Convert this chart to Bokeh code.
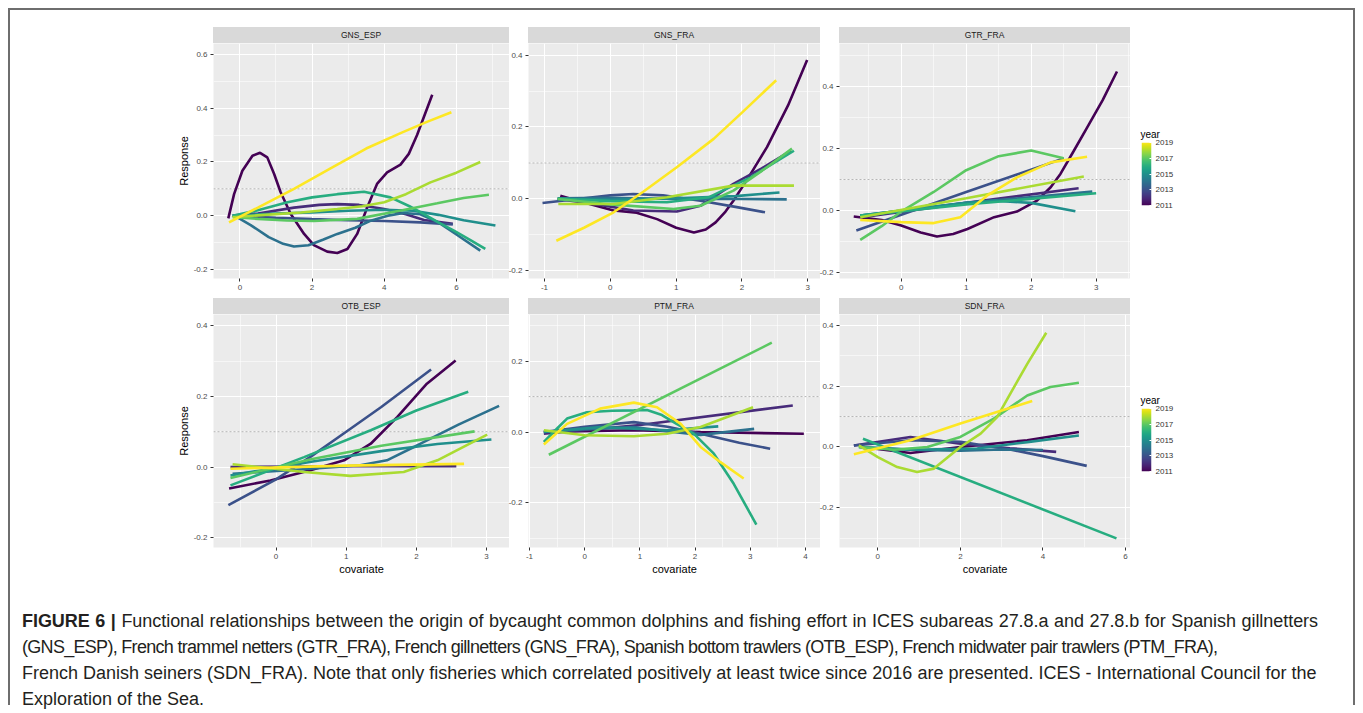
import numpy as np
from bokeh.plotting import figure
from bokeh.layouts import row, column
from bokeh.models import (Range1d, FixedTicker, PrintfTickFormatter, Span, Div, Spacer,
                          LinearColorMapper)
from bokeh.palettes import viridis, Viridis256
from bokeh.embed import file_html
from bokeh.resources import INLINE

YEARS = [2011, 2012, 2013, 2014, 2015, 2016, 2017, 2018, 2019]
LEGEND_TICKS = [2011, 2013, 2015, 2017, 2019]
COLORS = viridis(9)

# ---------------- GNS_ESP ----------------
GNS_ESP_X = {
    2011: [-0.32, -0.16, 0.07, 0.35, 0.56, 0.76, 0.95, 1.13, 1.41, 1.78, 2.05, 2.42, 2.7, 2.98, 3.25, 3.53, 3.8, 4.08, 4.45, 4.68, 4.91, 5.33],
    2012: [-0.2, 0.5, 1.5, 2.2, 2.7, 3.3, 4.0, 4.6, 5.1, 5.9],
    2013: [-0.2, 1.0, 2.0, 3.0, 4.0, 5.0, 5.9],
    2014: [-0.15, 0.3, 0.8, 1.2, 1.5, 1.9, 2.3, 2.7, 3.2, 3.6, 4.1, 4.54, 5.0, 5.5, 6.0, 6.66],
    2015: [-0.2, 1.0, 2.0, 3.0, 4.0, 4.8, 5.5, 6.2, 7.08],
    2016: [-0.2, 0.5, 1.32, 2.0, 2.7, 3.44, 4.17, 4.7, 5.1, 5.5, 5.93, 6.4, 6.8],
    2017: [-0.2, 0.5, 1.3, 2.05, 3.25, 4.5, 5.47, 6.2, 6.9],
    2018: [-0.2, 0.7, 1.7, 2.7, 3.4, 4.0, 4.6, 5.28, 6.0, 6.66],
    2019: [-0.3, 0.5, 1.5, 2.5, 3.5, 4.5, 5.2, 5.86],
}
GNS_ESP_Y = {
    2011: [-0.01, 0.08, 0.167, 0.223, 0.234, 0.217, 0.155, 0.087, 0.006, -0.068, -0.11, -0.134, -0.139, -0.124, -0.068, 0.031, 0.118, 0.161, 0.19, 0.23, 0.30, 0.45],
    2012: [0.0, 0.008, 0.03, 0.04, 0.043, 0.04, 0.025, 0.005, -0.016, -0.03],
    2013: [0.0, -0.008, -0.013, -0.017, -0.02, -0.025, -0.033],
    2014: [0.0, -0.035, -0.08, -0.105, -0.115, -0.11, -0.09, -0.068, -0.045, -0.02, 0.0, 0.01, 0.005, -0.025, -0.07, -0.13],
    2015: [0.0, 0.008, 0.012, 0.018, 0.022, 0.018, 0.003, -0.017, -0.037],
    2016: [0.0, 0.02, 0.05, 0.068, 0.08, 0.089, 0.068, 0.035, 0.006, -0.025, -0.056, -0.092, -0.124],
    2017: [-0.005, -0.012, -0.018, -0.02, -0.012, 0.02, 0.046, 0.066, 0.078],
    2018: [-0.006, 0.003, 0.012, 0.025, 0.035, 0.05, 0.08, 0.124, 0.16, 0.2],
    2019: [-0.025, 0.03, 0.1, 0.175, 0.25, 0.31, 0.35, 0.385],
}

# ---------------- GNS_FRA ----------------
GNS_FRA_X = {
    2011: [-0.76, -0.4, 0.05, 0.4, 0.71, 1.0, 1.27, 1.45, 1.6, 1.75, 1.87, 2.1, 2.38, 2.7, 2.99],
    2012: [-0.8, -0.2, 0.35, 1.01, 1.37, 1.87, 2.3, 2.74],
    2013: [-1.03, -0.5, 0.0, 0.35, 0.8, 1.37, 1.9, 2.35],
    2014: [-0.8, 0.0, 1.0, 2.0, 2.68],
    2015: [-0.8, 0.0, 1.0, 1.9, 2.57],
    2016: [-0.8, 0.0, 0.86, 1.5, 2.13, 2.79],
    2017: [-0.8, 0.0, 0.96, 1.37, 1.87, 2.38, 2.76],
    2018: [-0.79, 0.05, 0.86, 1.87, 2.3, 2.79],
    2019: [-0.82, -0.4, 0.05, 0.5, 1.01, 1.57, 2.0, 2.52],
}
GNS_FRA_Y = {
    2011: [0.009, -0.01, -0.032, -0.038, -0.056, -0.08, -0.093, -0.085, -0.065, -0.035, -0.005, 0.06, 0.144, 0.26, 0.386],
    2012: [0.0, -0.015, -0.032, -0.035, -0.019, 0.042, 0.085, 0.134],
    2013: [-0.011, 0.0, 0.01, 0.014, 0.01, -0.005, -0.022, -0.037],
    2014: [0.002, 0.003, 0.0, 0.0, -0.001],
    2015: [0.0, -0.002, 0.002, 0.008, 0.018],
    2016: [0.001, -0.006, -0.009, 0.005, 0.06, 0.134],
    2017: [0.0, -0.015, -0.028, -0.019, 0.023, 0.088, 0.14],
    2018: [-0.014, -0.014, 0.005, 0.037, 0.037, 0.037],
    2019: [-0.116, -0.08, -0.037, 0.02, 0.088, 0.167, 0.24, 0.33],
}

# ---------------- GTR_FRA ----------------
GTR_FRA_X = {
    2011: [-0.73, -0.3, 0.0, 0.3, 0.55, 0.8, 1.02, 1.43, 1.78, 2.09, 2.3, 2.45, 2.65, 2.86, 3.1, 3.32],
    2012: [-0.57, 1.0, 2.73],
    2013: [-0.69, 1.0, 2.5],
    2014: [-0.63, 1.0, 2.94],
    2015: [-0.63, 0.4, 1.0, 1.43, 2.0, 2.68],
    2016: [-0.63, 1.0, 3.0],
    2017: [-0.63, -0.3, 0.0, 0.5, 1.0, 1.5, 2.0, 2.5],
    2018: [-0.63, 1.0, 2.81],
    2019: [-0.63, 0.0, 0.5, 0.91, 1.32, 1.78, 2.3, 2.86],
}
GTR_FRA_Y = {
    2011: [-0.019, -0.03, -0.048, -0.07, -0.083, -0.075, -0.059, -0.021, -0.003, 0.032, 0.075, 0.118, 0.19, 0.267, 0.355, 0.447],
    2012: [-0.02, 0.025, 0.072],
    2013: [-0.064, 0.06, 0.168],
    2014: [-0.016, 0.025, 0.061],
    2015: [-0.016, 0.01, 0.025, 0.032, 0.025, -0.002],
    2016: [-0.016, 0.02, 0.056],
    2017: [-0.094, -0.05, -0.003, 0.06, 0.13, 0.175, 0.193, 0.168],
    2018: [-0.021, 0.04, 0.11],
    2019: [-0.03, -0.037, -0.04, -0.021, 0.048, 0.107, 0.155, 0.173],
}

# ---------------- OTB_ESP ----------------
OTB_ESP_X = {
    2011: [-0.67, -0.08, 0.49, 0.97, 1.35, 1.73, 2.15, 2.56],
    2012: [-0.65, 1.0, 2.57],
    2013: [-0.68, 0.0, 0.5, 1.0, 1.5, 2.21],
    2014: [-0.62, 0.5, 1.2, 1.58, 2.06, 2.6, 3.18],
    2015: [-0.65, 0.5, 1.5, 2.3, 3.07],
    2016: [-0.65, 0.4, 1.35, 2.0, 2.74],
    2017: [-0.65, 0.5, 1.5, 2.83],
    2018: [-0.62, 0.4, 1.06, 1.82, 2.3, 3.01],
    2019: [-0.65, 1.0, 2.68],
}
OTB_ESP_Y = {
    2011: [-0.061, -0.038, -0.009, 0.019, 0.066, 0.142, 0.236, 0.302],
    2012: [0.0, 0.002, 0.002],
    2013: [-0.108, -0.035, 0.03, 0.1, 0.17, 0.276],
    2014: [-0.019, -0.005, 0.005, 0.019, 0.066, 0.12, 0.173],
    2015: [-0.024, 0.015, 0.045, 0.065, 0.078],
    2016: [-0.052, 0.028, 0.104, 0.16, 0.213],
    2017: [-0.031, 0.022, 0.06, 0.101],
    2018: [0.008, -0.014, -0.025, -0.014, 0.019, 0.092],
    2019: [-0.005, 0.004, 0.009],
}

# ---------------- PTM_FRA ----------------
PTM_FRA_X = {
    2011: [-0.74, 0.89, 2.1, 3.97],
    2012: [-0.74, 1.0, 3.77],
    2013: [-0.74, 0.0, 0.89, 1.5, 2.1, 2.8, 3.36],
    2014: [-0.74, 0.0, 0.89, 1.6, 2.1, 3.07],
    2015: [-0.74, 0.28, 1.49, 2.42],
    2016: [-0.74, -0.5, -0.32, 0.04, 0.5, 0.89, 1.13, 1.4, 1.61, 1.98, 2.34, 2.7, 3.11],
    2017: [-0.65, 3.39],
    2018: [-0.74, 0.0, 0.89, 1.49, 2.1, 3.05],
    2019: [-0.74, -0.32, 0.28, 0.89, 1.31, 1.74, 2.1, 2.46, 2.88],
}
PTM_FRA_Y = {
    2011: [0.0, 0.005, 0.0, -0.005],
    2012: [-0.005, 0.02, 0.075],
    2013: [0.0, 0.015, 0.028, 0.015, -0.005, -0.03, -0.047],
    2014: [0.0, 0.008, 0.014, 0.0, -0.008, 0.009],
    2015: [0.0, 0.014, 0.005, 0.016],
    2016: [-0.028, 0.01, 0.038, 0.056, 0.06, 0.061, 0.062, 0.048, 0.028, -0.005, -0.061, -0.146, -0.261],
    2017: [-0.064, 0.252],
    2018: [0.005, -0.009, -0.012, -0.005, 0.014, 0.07],
    2019: [-0.035, 0.023, 0.066, 0.083, 0.07, 0.023, -0.042, -0.085, -0.131],
}

# ---------------- SDN_FRA ----------------
SDN_FRA_X = {
    2011: [-0.4, 0.79, 2.0, 3.62, 4.87],
    2012: [-0.58, 0.79, 2.0, 3.2, 4.32],
    2013: [-0.58, 0.79, 2.0, 3.2, 4.0, 5.06],
    2014: [-0.45, 1.0, 2.0, 3.0, 4.0],
    2015: [-0.46, 0.79, 2.4, 3.62, 4.87],
    2016: [-0.36, 5.78],
    2017: [-0.46, 0.39, 1.2, 2.0, 2.81, 3.62, 4.18, 4.87],
    2018: [-0.46, 0.0, 0.47, 0.95, 1.36, 2.0, 2.49, 2.89, 3.21, 3.62, 4.08],
    2019: [-0.58, 0.79, 2.0, 3.74],
}
SDN_FRA_Y = {
    2011: [0.0, -0.02, 0.0, 0.022, 0.049],
    2012: [0.005, 0.033, 0.011, -0.004, -0.016],
    2013: [0.005, 0.022, 0.017, -0.008, -0.03, -0.062],
    2014: [0.0, -0.01, -0.012, -0.008, -0.01],
    2015: [0.0, -0.009, -0.005, 0.016, 0.038],
    2016: [0.027, -0.3],
    2017: [0.0, -0.009, 0.0, 0.033, 0.093, 0.169, 0.197, 0.211],
    2018: [0.005, -0.033, -0.066, -0.082, -0.071, 0.0, 0.044, 0.098, 0.175, 0.273, 0.375],
    2019: [-0.024, 0.022, 0.077, 0.151],
}

THRESHOLD = 0.1

CAPTION_LINES = [
    "<b>FIGURE 6 |</b> Functional relationships between the origin of bycaught common dolphins and fishing effort in ICES subareas 27.8.a and 27.8.b for Spanish gillnetters",
    "(GNS_ESP), French trammel netters (GTR_FRA), French gillnetters (GNS_FRA), Spanish bottom trawlers (OTB_ESP), French midwater pair trawlers (PTM_FRA),",
    "French Danish seiners (SDN_FRA). Note that only fisheries which correlated positively at least twice since 2016 are presented. ICES - International Council for the",
    "Exploration of the Sea.",
]

PANELS = [
    dict(name="GNS_ESP", xs=GNS_ESP_X, ys=GNS_ESP_Y, xr=(-0.73, 7.47), yr=(-0.234, 0.641),
         xt=[0, 2, 4, 6], yt=[-0.2, 0.0, 0.2, 0.4, 0.6]),
    dict(name="GNS_FRA", xs=GNS_FRA_X, ys=GNS_FRA_Y, xr=(-1.243, 3.193), yr=(-0.221, 0.432),
         xt=[-1, 0, 1, 2, 3], yt=[-0.2, 0.0, 0.2, 0.4]),
    dict(name="GTR_FRA", xs=GTR_FRA_X, ys=GTR_FRA_Y, xr=(-0.949, 3.528), yr=(-0.218, 0.537),
         xt=[0, 1, 2, 3], yt=[-0.2, 0.0, 0.2, 0.4]),
    dict(name="OTB_ESP", xs=OTB_ESP_X, ys=OTB_ESP_Y, xr=(-0.892, 3.328), yr=(-0.228, 0.432),
         xt=[0, 1, 2, 3], yt=[-0.2, 0.0, 0.2, 0.4]),
    dict(name="PTM_FRA", xs=PTM_FRA_X, ys=PTM_FRA_Y, xr=(-1.018, 4.272), yr=(-0.3256, 0.3315),
         xt=[-1, 0, 1, 2, 3, 4], yt=[-0.2, 0.0, 0.2]),
    dict(name="SDN_FRA", xs=SDN_FRA_X, ys=SDN_FRA_Y, xr=(-0.928, 6.12), yr=(-0.33, 0.435),
         xt=[0, 2, 4, 6], yt=[-0.2, 0.0, 0.2, 0.4]),
]

FONT = "Liberation Sans"


def minors(ticks, lo, hi):
    step = ticks[1] - ticks[0]
    out = []
    t = ticks[0] - step / 2
    while t - step > lo:
        t -= step
    while t < hi:
        if lo <= t <= hi:
            out.append(round(t, 6))
        t += step
    return out


def style_axis(ax):
    ax.axis_line_color = None
    ax.major_tick_line_color = "#333333"
    ax.major_tick_out = 3
    ax.major_tick_in = 0
    ax.minor_tick_line_color = None
    ax.major_label_text_font_size = "8px"
    ax.major_label_text_color = "#4D4D4D"
    ax.major_label_text_font = FONT
    ax.major_label_standoff = 2
    ax.axis_label_text_font = FONT
    ax.axis_label_text_font_size = "11px"
    ax.axis_label_text_font_style = "normal"
    ax.axis_label_text_color = "#000000"
    ax.axis_label_standoff = 1


def make_panel(spec, left, shift, fw, fh, bottom, ylabel=None, xlabel=None):
    p = figure(frame_width=fw, frame_height=fh, title=None,
               x_range=Range1d(*spec["xr"]), y_range=Range1d(*spec["yr"]),
               output_backend="svg", toolbar_location=None,
               min_border_left=left, min_border_right=0, min_border_top=0,
               min_border_bottom=bottom,
               background_fill_color="#EBEBEB", border_fill_color=None,
               outline_line_color=None)
    p.xaxis.ticker = FixedTicker(ticks=spec["xt"], minor_ticks=minors(spec["xt"], *spec["xr"]))
    p.yaxis.ticker = FixedTicker(ticks=spec["yt"], minor_ticks=minors(spec["yt"], *spec["yr"]))
    p.xaxis.formatter = PrintfTickFormatter(format="%d")
    p.yaxis.formatter = PrintfTickFormatter(format="%.1f")
    style_axis(p.xaxis[0])
    style_axis(p.yaxis[0])
    if ylabel:
        p.yaxis.axis_label = ylabel
    if xlabel:
        p.xaxis.axis_label = xlabel
    for g in (p.xgrid[0], p.ygrid[0]):
        g.grid_line_color = "white"
        g.grid_line_width = 1.1
        g.minor_grid_line_color = "white"
        g.minor_grid_line_width = 0.55
    p.add_layout(Span(location=THRESHOLD, dimension="width", line_color="#B5B5B5",
                      line_dash="2 2", line_width=1, level="underlay"))
    for yr, c in zip(YEARS, COLORS):
        if yr in spec["xs"]:
            p.line(spec["xs"][yr], spec["ys"][yr], line_color=c, line_width=2.6)
    strip = Div(text=spec["name"], width=fw, height=16, margin=(0, 0, 0, left),
                styles={"background-color": "#D9D9D9", "text-align": "center",
                        "font-size": "8.5px", "line-height": "16px", "color": "#1A1A1A",
                        "font-family": FONT, "overflow": "hidden"})
    return column(strip, p, margin=(0, 0, 0, -shift))


def make_legend(top):
    mapper = LinearColorMapper(palette=Viridis256, low=YEARS[0], high=YEARS[-1])
    grad = np.linspace(YEARS[0], YEARS[-1], 256).reshape(256, 1)
    lg = figure(frame_width=10, frame_height=63, title="year",
                x_range=Range1d(0, 1), y_range=Range1d(YEARS[0], YEARS[-1]),
                output_backend="svg", toolbar_location=None,
                min_border_left=11, min_border_right=30, min_border_top=top,
                min_border_bottom=4, x_axis_location=None, y_axis_location="right",
                outline_line_color=None, border_fill_color=None,
                background_fill_color=None)
    lg.title.text_font = FONT
    lg.title.text_font_size = "10px"
    lg.title.text_font_style = "normal"
    lg.title.text_color = "#000000"
    lg.title.align = "left"
    lg.title.offset = -1
    lg.title.standoff = 5
    lg.grid.visible = False
    lg.image(image=[grad], x=0, y=YEARS[0], dw=1, dh=YEARS[-1] - YEARS[0], color_mapper=mapper)
    ax = lg.yaxis[0]
    ax.ticker = FixedTicker(ticks=LEGEND_TICKS)
    ax.formatter = PrintfTickFormatter(format="%d")
    ax.axis_line_color = None
    ax.major_tick_in = 2
    ax.major_tick_out = 0
    ax.major_tick_line_color = "white"
    ax.minor_tick_line_color = None
    ax.major_label_text_font = FONT
    ax.major_label_text_font_size = "8px"
    ax.major_label_text_color = "#333333"
    ax.major_label_standoff = 4
    return lg


FW = [296, 292, 291]
LB = [203, 25, 25]
SHIFT = [0, 6, 6]
r1 = row(*[make_panel(PANELS[i], LB[i], SHIFT[i], FW[i], 235, 20,
                      ylabel="Response" if i == 0 else None) for i in range(3)],
         make_legend(115))
r2 = row(*[make_panel(PANELS[3 + i], LB[i], SHIFT[i], FW[i], 233, 31,
                      ylabel="Response" if i == 0 else None, xlabel="covariate")
           for i in range(3)],
         make_legend(110))

line_styles = [
    "width:1296px;white-space:nowrap;text-align:justify;text-align-last:justify;letter-spacing:-0.05px;",
    "white-space:nowrap;letter-spacing:-0.7px;",
    "width:1291px;white-space:nowrap;text-align:justify;text-align-last:justify;",
    "white-space:nowrap;",
]
caption_html = "".join('<div style="%s">%s</div>' % (s, t) for s, t in zip(line_styles, CAPTION_LINES))
caption = Div(text=caption_html, width=1330, height=97, margin=(30, 0, 0, 12),
              styles={"font-family": FONT, "font-size": "18px", "line-height": "26px",
                      "color": "#231F20"})

layout = column(Spacer(height=17), r1, r2, caption, width=1347, margin=(8, 0, 0, 8),
                styles={"border-top": "2px solid #6E6E6E", "border-left": "2px solid #6E6E6E",
                        "border-right": "2px solid #6E6E6E", "background-color": "white"})

open("out.html", "w").write(file_html(layout, INLINE))
